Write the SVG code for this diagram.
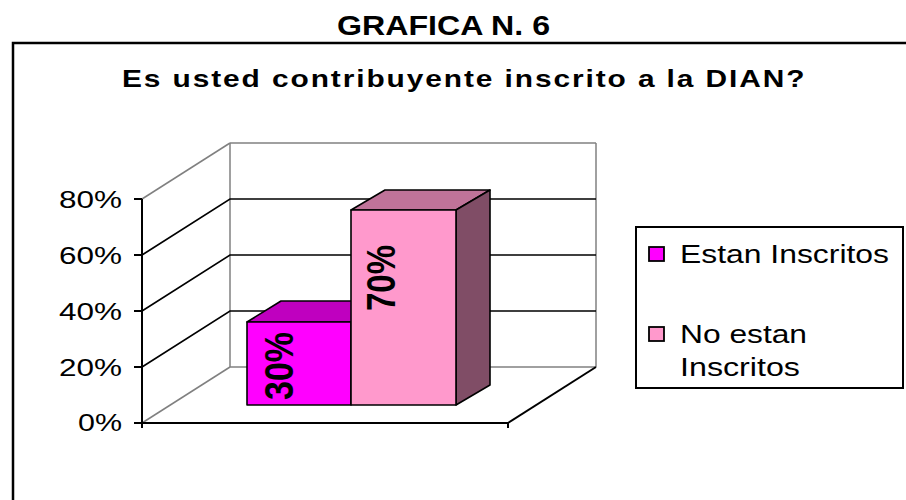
<svg xmlns="http://www.w3.org/2000/svg" width="906" height="500" viewBox="0 0 906 500">
<style>
  text { font-family: "Liberation Sans", Arial, sans-serif; fill: #000; }
  .bold { font-weight: bold; }
  .gray { stroke: #808080; stroke-width: 1.5; fill: none; }
  .grid { stroke: #000; stroke-width: 1.6; fill: none; }
  .axis { stroke: #000; stroke-width: 2; fill: none; }
  .edge { stroke: #000; stroke-width: 1.6; stroke-linejoin: round; }
  .ax { font-size: 23px; }
  .leg { font-size: 25px; }
  .val { font-size: 40px; font-weight: bold; }
</style>
<rect width="906" height="500" fill="#fff"/>

<g id="title">
  <text class="bold" x="337" y="35" font-size="28" textLength="213" lengthAdjust="spacingAndGlyphs">GRAFICA N. 6</text>
</g>

<g id="frame">
  <rect x="13" y="43" width="905" height="470" fill="none" stroke="#000" stroke-width="2.5"/>
</g>

<g id="heading" transform="translate(122,87) scale(1.3,1)">
  <text class="bold" x="0" y="0" font-size="23" textLength="525" lengthAdjust="spacing">Es usted contribuyente inscrito a la DIAN?</text>
</g>

<g id="walls">
  <line class="gray" x1="230" y1="143" x2="596" y2="143"/>
  <line class="gray" x1="230" y1="143" x2="230" y2="367"/>
  <line class="gray" x1="596" y1="143" x2="596" y2="367"/>
  <line class="gray" x1="230" y1="367" x2="596" y2="367"/>
  <line class="gray" x1="142" y1="199" x2="230" y2="143"/>
  <line class="gray" x1="142" y1="423" x2="230" y2="367"/>
</g>

<g id="gridlines">
  <polyline class="grid" points="142,255 230,199 596,199"/>
  <polyline class="grid" points="142,311 230,255 596,255"/>
  <polyline class="grid" points="142,367 230,311 596,311"/>
</g>

<g id="axes">
  <line class="axis" x1="142" y1="199" x2="142" y2="428"/>
  <line class="axis" x1="134" y1="199" x2="142" y2="199"/>
  <line class="axis" x1="134" y1="255" x2="142" y2="255"/>
  <line class="axis" x1="134" y1="311" x2="142" y2="311"/>
  <line class="axis" x1="134" y1="367" x2="142" y2="367"/>
  <line class="axis" x1="134" y1="423" x2="508" y2="423"/>
  <line class="axis" x1="508" y1="423" x2="508" y2="428"/>
  <line class="axis" x1="508" y1="423" x2="596" y2="367"/>
  <text class="ax" x="59" y="208" textLength="63" lengthAdjust="spacingAndGlyphs">80%</text>
  <text class="ax" x="59" y="264" textLength="63" lengthAdjust="spacingAndGlyphs">60%</text>
  <text class="ax" x="59" y="320" textLength="63" lengthAdjust="spacingAndGlyphs">40%</text>
  <text class="ax" x="59" y="376" textLength="63" lengthAdjust="spacingAndGlyphs">20%</text>
  <text class="ax" x="78" y="431" textLength="44" lengthAdjust="spacingAndGlyphs">0%</text>
</g>

<g id="bar-inscritos">
  <polygon class="edge" points="247,322 281,301 385,301 351,322" fill="#BF00BF"/>
  <rect class="edge" x="247" y="322" width="104" height="83" fill="#FF00FF"/>
  <text class="val" transform="translate(293,400) rotate(-90)" textLength="68" lengthAdjust="spacingAndGlyphs">30%</text>
</g>

<g id="bar-no-inscritos">
  <polygon class="edge" points="351,210 385,190 490,190 456,210" fill="#BF7399"/>
  <polygon class="edge" points="456,210 490,190 490,385 456,405" fill="#804D66"/>
  <rect class="edge" x="351" y="210" width="105" height="195" fill="#FF99CC"/>
  <text class="val" transform="translate(395,311) rotate(-90)" textLength="66" lengthAdjust="spacingAndGlyphs">70%</text>
</g>

<g id="legend">
  <rect x="636" y="227" width="267" height="161" fill="#fff" stroke="#000" stroke-width="2"/>
  <rect x="649" y="247" width="15" height="14" fill="#FF00FF" stroke="#000" stroke-width="1.8"/>
  <text class="leg" x="680" y="263" textLength="209" lengthAdjust="spacingAndGlyphs">Estan Inscritos</text>
  <rect x="649" y="327" width="15" height="14" fill="#FF99CC" stroke="#000" stroke-width="1.8"/>
  <text class="leg" x="680" y="343" textLength="127" lengthAdjust="spacingAndGlyphs">No estan</text>
  <text class="leg" x="680" y="376" textLength="120" lengthAdjust="spacingAndGlyphs">Inscritos</text>
</g>
</svg>
